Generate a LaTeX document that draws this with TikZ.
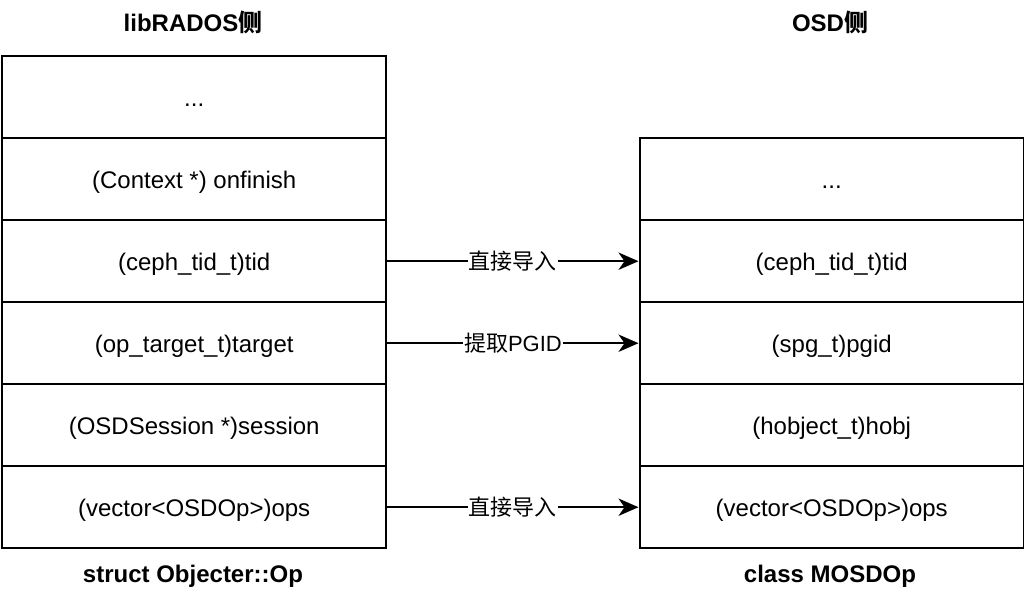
\documentclass[tikz,border=0pt]{standalone}
\usepackage{fontspec}
\setmainfont{Liberation Sans}
\newfontfamily\cjk{Noto Sans CJK SC}
\usetikzlibrary{arrows.meta}
\begin{document}
\begin{tikzpicture}[x=0.75pt,y=-0.75pt,
  cell/.style={draw=black,line width=1.8pt,minimum width=384*0.75pt,minimum height=82*0.75pt,inner sep=0pt,anchor=north west,text height=15.3pt,text depth=1.8pt,font=\fontsize{18}{21}\selectfont},
  title/.style={font=\fontsize{18}{21}\selectfont\bfseries},
  conn/.style={line width=1.5pt,-{Stealth[length=15pt,width=13pt,inset=4.5pt]}},
  lbl/.style={fill=white,inner sep=1pt,font=\fontsize{16.5}{19}\selectfont}]
\useasboundingbox (0,0) rectangle (1024,594);
\node[title] (t1) at (193,22) {libRADOS{\cjk 侧}};
\node[title] (t2) at (830,22) {OSD{\cjk 侧}};
\node[title] (b1) at (193,576) {struct Objecter::Op};
\node[title] (b2) at (830,576) {class MOSDOp};
% left
\node[cell] (l1) at (1,55) {...};
\node[cell] (l2) at (1,137) {(Context *) onfinish};
\node[cell] (l3) at (1,219) {(ceph\_tid\_t)tid};
\node[cell] (l4) at (1,301) {(op\_target\_t)target};
\node[cell] (l5) at (1,383) {(OSDSession *)session};
\node[cell] (l6) at (1,465) {(vector<OSDOp>)ops};
% right
\node[cell] (r1) at (638.5,137) {...};
\node[cell] (r2) at (638.5,219) {(ceph\_tid\_t)tid};
\node[cell] (r3) at (638.5,301) {(spg\_t)pgid};
\node[cell] (r4) at (638.5,383) {(hobject\_t)hobj};
\node[cell] (r5) at (638.5,465) {(vector<OSDOp>)ops};
\draw[conn] (l3.east) -- node[lbl]{\cjk 直接导入} (r2.west);
\draw[conn] (l4.east) -- node[lbl]{{\cjk 提取}PGID} (r3.west);
\draw[conn] (l6.east) -- node[lbl]{\cjk 直接导入} (r5.west);
\end{tikzpicture}
\end{document}
